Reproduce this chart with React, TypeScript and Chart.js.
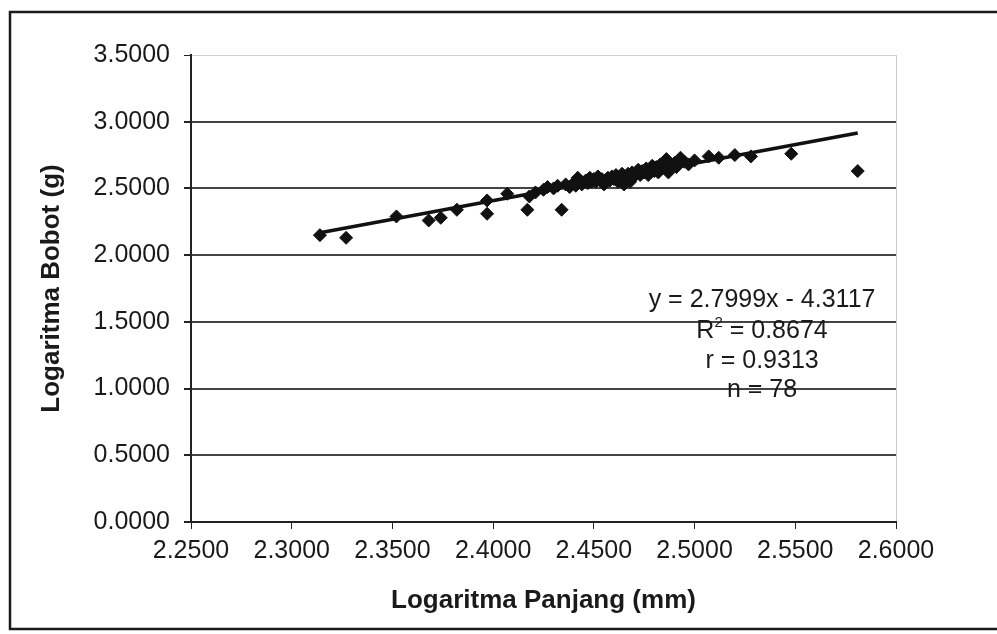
import React, { useEffect, useRef } from "react";
import { Chart, registerables } from "chart.js";

Chart.register(...registerables);

// Logaritma Panjang (mm) values
const logPanjang = [
  2.314, 2.327, 2.352, 2.368, 2.374, 2.382, 2.397, 2.397, 2.407, 2.417,
  2.418, 2.427, 2.434, 2.436, 2.442, 2.443, 2.450, 2.452, 2.455, 2.457,
  2.465, 2.467, 2.472, 2.479, 2.486, 2.487, 2.493, 2.507, 2.520, 2.528,
  2.548, 2.581,
  2.421, 2.425, 2.430, 2.432, 2.438, 2.440, 2.441, 2.444, 2.446, 2.447,
  2.448, 2.449, 2.451, 2.453, 2.454, 2.456, 2.458, 2.459, 2.460, 2.461,
  2.462, 2.463, 2.464, 2.466, 2.468, 2.469, 2.470, 2.471, 2.473, 2.474,
  2.475, 2.476, 2.477, 2.478, 2.480, 2.481, 2.482, 2.483, 2.484, 2.488,
  2.490, 2.491, 2.495, 2.497, 2.500, 2.512,
];

// Logaritma Bobot (g) values
const logBobot = [
  2.15, 2.13, 2.29, 2.26, 2.28, 2.34, 2.31, 2.41, 2.46, 2.34,
  2.44, 2.51, 2.34, 2.53, 2.58, 2.55, 2.57, 2.59, 2.53, 2.58,
  2.53, 2.61, 2.64, 2.67, 2.72, 2.62, 2.73, 2.74, 2.75, 2.74,
  2.76, 2.63,
  2.47, 2.49, 2.50, 2.52, 2.51, 2.54, 2.52, 2.53, 2.56, 2.54,
  2.58, 2.55, 2.55, 2.56, 2.57, 2.55, 2.56, 2.59, 2.57, 2.60,
  2.55, 2.58, 2.61, 2.58, 2.55, 2.62, 2.59, 2.61, 2.60, 2.63,
  2.62, 2.65, 2.60, 2.64, 2.63, 2.66, 2.62, 2.68, 2.65, 2.67,
  2.69, 2.66, 2.70, 2.68, 2.71, 2.73,
];

const xTicks = [2.25, 2.3, 2.35, 2.4, 2.45, 2.5, 2.55, 2.6];
const yTicks = [0, 0.5, 1.0, 1.5, 2.0, 2.5, 3.0, 3.5];

const slope = 2.7999;
const intercept = -4.3117;

// each stats line: [main text before superscript, superscript, rest]
const statsLines = [
  ["y = 2.7999x - 4.3117", "", ""],
  ["R", "2", " = 0.8674"],
  ["r = 0.9313", "", ""],
  ["n = 78", "", ""],
];
const statsYValues = [1.664, 1.433, 1.209, 0.985];
const statsXValue = 2.5335;

const FONT = "'Liberation Sans', Arial, sans-serif";

export default function App() {
  const canvasRef = useRef<HTMLCanvasElement | null>(null);

  useEffect(() => {
    const canvas = canvasRef.current;
    if (!canvas) return;

    const xMin = Math.min(...logPanjang);
    const xMax = Math.max(...logPanjang);
    const trend = [
      { x: xMin, y: slope * xMin + intercept },
      { x: xMax, y: slope * xMax + intercept },
    ];
    const points = logPanjang.map((x, i) => ({ x, y: logBobot[i] }));

    const decor = {
      id: "decor",
      beforeDraw(chart: any) {
        const ctx = chart.ctx;
        ctx.save();
        ctx.fillStyle = "#ffffff";
        ctx.fillRect(0, 0, chart.width, chart.height);
        ctx.strokeStyle = "#1a1a1a";
        ctx.lineWidth = 2.5;
        ctx.strokeRect(10, 12, 1000, 617);
        ctx.restore();
      },
      afterDatasetsDraw(chart: any) {
        const ctx = chart.ctx;
        const xs = chart.scales.x;
        const ys = chart.scales.y;
        ctx.save();
        ctx.fillStyle = "#1a1a1a";
        ctx.textBaseline = "middle";
        const mainFont = `25px ${FONT}`;
        const supFont = `15px ${FONT}`;
        statsLines.forEach((parts, i) => {
          const [a, sup, b] = parts;
          ctx.font = mainFont;
          const wa = ctx.measureText(a).width;
          const wb = ctx.measureText(b).width;
          ctx.font = supFont;
          const ws = ctx.measureText(sup).width;
          const total = wa + ws + wb;
          const cx = xs.getPixelForValue(statsXValue);
          const cy = ys.getPixelForValue(statsYValues[i]);
          let x = cx - total / 2;
          ctx.textAlign = "left";
          ctx.font = mainFont;
          ctx.fillText(a, x, cy);
          x += wa;
          if (sup) {
            ctx.font = supFont;
            ctx.fillText(sup, x, cy - 8);
            x += ws;
          }
          if (b) {
            ctx.font = mainFont;
            ctx.fillText(b, x, cy);
          }
        });
        ctx.restore();
      },
    };

    const chart = new Chart(canvas, {
      type: "scatter",
      data: {
        datasets: [
          {
            type: "line",
            data: trend,
            borderColor: "#111",
            borderWidth: 3.5,
            pointRadius: 0,
            fill: false,
          } as any,
          {
            data: points,
            pointStyle: "rectRot",
            pointRadius: 6.5,
            backgroundColor: "#111",
            borderColor: "#111",
            borderWidth: 1,
          },
        ],
      },
      options: {
        animation: false,
        responsive: false,
        layout: { padding: { top: 55, right: 101, left: 0, bottom: 0 } },
        plugins: { legend: { display: false }, tooltip: { enabled: false } },
        scales: {
          x: {
            type: "linear",
            min: 2.25,
            max: 2.6,
            afterBuildTicks: (s: any) => {
              s.ticks = xTicks.map((v) => ({ value: v }));
            },
            afterFit: (s: any) => {
              s.height = 112;
            },
            ticks: {
              callback: (v: any) => Number(v).toFixed(4),
              color: "#1a1a1a",
              font: { family: FONT, size: 25 },
              padding: 7,
              maxRotation: 0,
              autoSkip: false,
            },
            grid: {
              drawOnChartArea: true,
              color: (c: any) => (c.tick && c.tick.value === 2.6 ? "#cccccc" : "rgba(0,0,0,0)"),
              tickColor: "#222",
              tickLength: 7,
              lineWidth: 1,
            },
            border: { color: "#222", width: 2 },
            title: {
              display: true,
              text: "Logaritma Panjang (mm)",
              color: "#1a1a1a",
              font: { family: FONT, size: 26, weight: "bold" },
              padding: { top: 4, bottom: 18 },
            },
          },
          y: {
            type: "linear",
            min: 0,
            max: 3.5,
            afterBuildTicks: (s: any) => {
              s.ticks = yTicks.map((v) => ({ value: v }));
            },
            afterFit: (s: any) => {
              s.width = 191;
            },
            ticks: {
              callback: (v: any) => Number(v).toFixed(4),
              color: "#1a1a1a",
              font: { family: FONT, size: 25 },
              padding: 14,
              autoSkip: false,
            },
            grid: {
              color: (c: any) =>
                c.tick && c.tick.value === 3.5 ? "#d0d0d0" : c.tick && c.tick.value === 0 ? "rgba(0,0,0,0)" : "#444",
              lineWidth: (c: any) => (c.tick && c.tick.value === 3.5 ? 1 : 2),
              tickColor: "#222",
              tickLength: 7,
            },
            border: { color: "#222", width: 2 },
            title: {
              display: true,
              text: "Logaritma Bobot (g)",
              color: "#1a1a1a",
              font: { family: FONT, size: 26, weight: "bold" },
              padding: { top: 36, bottom: 4 },
            },
          },
        },
      },
      plugins: [decor],
    });

    return () => chart.destroy();
  }, []);

  return (
    <div style={{ position: "fixed", left: 0, top: 0, width: 997, height: 634, background: "#fff" }}>
      <canvas ref={canvasRef} width={997} height={634} style={{ width: 997, height: 634, display: "block" }} />
    </div>
  );
}
